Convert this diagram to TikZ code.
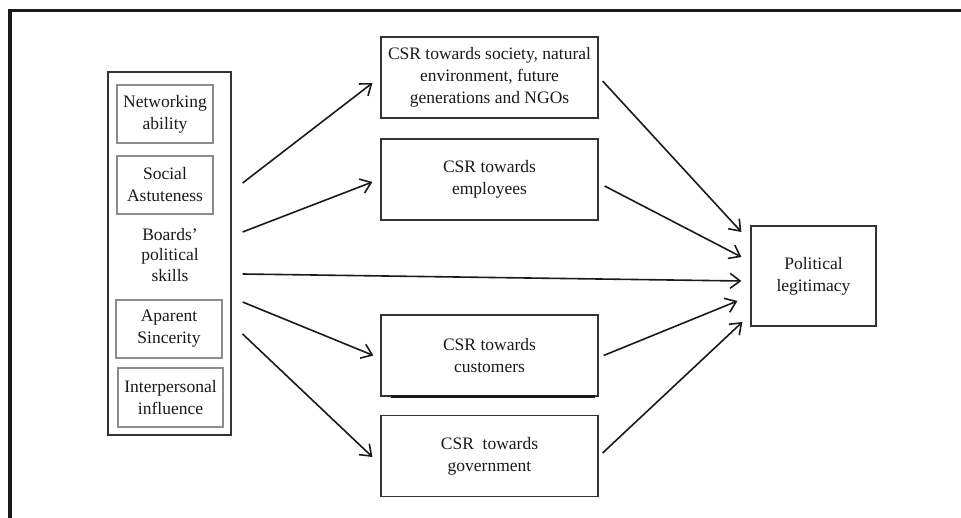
\documentclass[tikz,border=0pt]{standalone}
\usepackage{fontspec}
\setmainfont{Liberation Serif}
\usetikzlibrary{arrows.meta}
\definecolor{ink}{HTML}{1A1A1A}
\definecolor{boxline}{HTML}{333333}
\definecolor{inner}{HTML}{8C8C8C}
\tikzset{
  txt/.style={font=\fontsize{17.5}{22}\selectfont, text=ink, align=center, inner sep=0pt},
  outerbox/.style={draw=boxline, line width=1.2pt, minimum width=123pt, minimum height=363pt, inner sep=0pt},
  skillbox/.style={txt, draw=inner, line width=1.1pt, minimum height=58pt},
  csrbox/.style={txt, draw=boxline, line width=1.2pt, minimum width=217pt, minimum height=81pt},
  polbox/.style={txt, draw=boxline, line width=1.2pt, minimum width=125pt, minimum height=100pt},
  arr/.style={draw=ink, line width=1.6pt, -{Straight Barb[length=10pt,width=15pt]}},
}
\begin{document}
\begin{tikzpicture}[x=1pt,y=-1pt]
\useasboundingbox (0,0) rectangle (961,518);
% frame
\draw[line width=3.5pt, color=ink] (10,518) -- (10,10.5) -- (961,10.5);
% left group
\node[outerbox] (outer) at (169.5,253.5) {};
\node[skillbox, minimum width=96pt] (net) at (165,114) {Networking\\ability};
\node[skillbox, minimum width=96pt] (soc) at (165,185) {Social\\Astuteness};
\node[txt, font=\fontsize{17.5}{20.5}\selectfont] (boards) at (170,255) {Boards'\\political\\skills};
\node[skillbox, minimum width=106pt] (app) at (169,329) {Aparent\\Sincerity};
\node[skillbox, minimum width=105pt, minimum height=59pt] (inter) at (170.5,397.5) {Interpersonal\\influence};
% CSR boxes
\node[csrbox] (c1) at (489.5,77.5) {CSR towards society, natural\\environment, future\\generations and NGOs};
\node[csrbox] (c2) at (489.5,179.5) {CSR towards\\employees};
\node[csrbox] (c3) at (489.5,355.5) {CSR towards\\customers};
\node[csrbox] (c4) at (489.5,456) {CSR\ \ towards\\government};
\draw[line width=2.2pt, color=ink] ([xshift=11pt]c3.south west) -- ([xshift=-4pt]c3.south east);
% outcome
\node[polbox] (pol) at (813.5,276) {Political\\legitimacy};
% arrows from the board skills
\draw[arr] ([xshift=11pt,yshift=70.5pt]outer.east) -- ([xshift=-8pt,yshift=-5.5pt]c1.west);
\draw[arr] ([xshift=11pt,yshift=21.5pt]outer.east) -- ([xshift=-8pt,yshift=-2.5pt]c2.west);
\draw[arr] ([xshift=11pt,yshift=-20.5pt]outer.east) -- ([xshift=-9pt,yshift=-5pt]pol.west);
\draw[arr] ([xshift=11pt,yshift=-48.5pt]outer.east) -- ([xshift=-7pt]c3.west);
\draw[arr] ([xshift=11pt,yshift=-80.5pt]outer.east) -- ([xshift=-8pt,yshift=-1pt]c4.west);
% arrows to legitimacy
\draw[arr] ([xshift=4pt,yshift=-3.5pt]c1.east) -- ([xshift=-9pt,yshift=44pt]pol.west);
\draw[arr] ([xshift=6pt,yshift=-6.5pt]c2.east) -- ([xshift=-9pt,yshift=19pt]pol.west);
\draw[arr] ([xshift=5pt]c3.east) -- ([xshift=-13pt,yshift=-25pt]pol.west);
\draw[arr] ([xshift=4pt,yshift=3pt]c4.east) -- ([xshift=-8pt,yshift=-46pt]pol.west);
\end{tikzpicture}
\end{document}
